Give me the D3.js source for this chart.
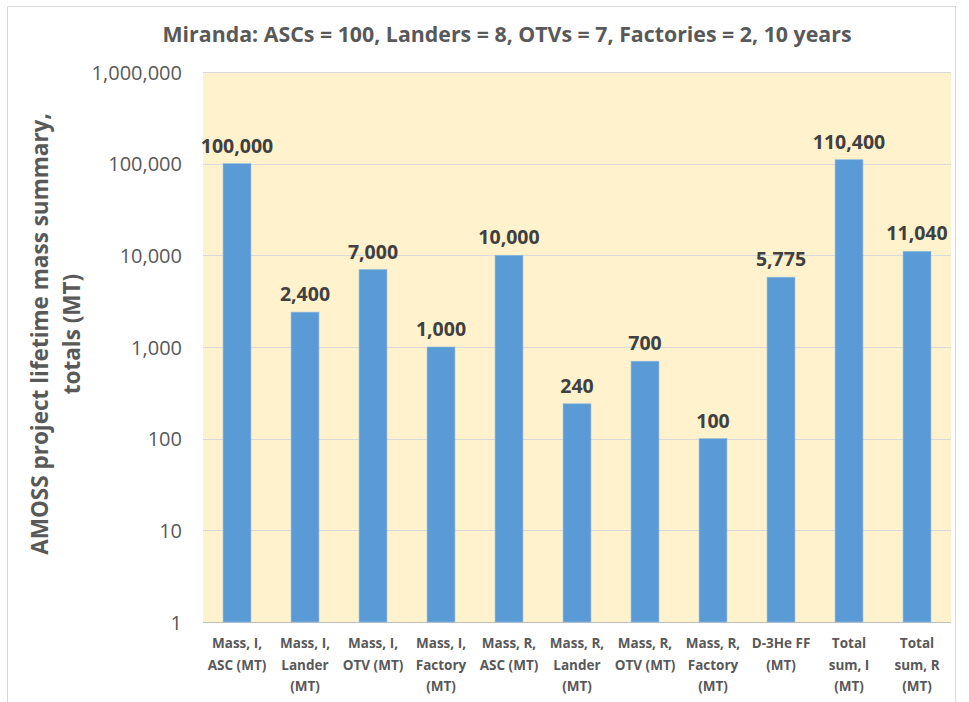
<!DOCTYPE html>
<html><head><meta charset="utf-8">
<script src="https://cdn.jsdelivr.net/npm/d3@7/dist/d3.min.js"></script>
<style>
html,body{margin:0;padding:0;background:#fff;}
svg{display:block;}
</style></head>
<body>
<script>
const categories = [
  ["Mass, I,","ASC (MT)"],
  ["Mass, I,","Lander","(MT)"],
  ["Mass, I,","OTV (MT)"],
  ["Mass, I,","Factory","(MT)"],
  ["Mass, R,","ASC (MT)"],
  ["Mass, R,","Lander","(MT)"],
  ["Mass, R,","OTV (MT)"],
  ["Mass, R,","Factory","(MT)"],
  ["D-3He FF","(MT)"],
  ["Total","sum, I","(MT)"],
  ["Total","sum, R","(MT)"]
];
const values = [100000, 2400, 7000, 1000, 10000, 240, 700, 100, 5775, 110400, 11040];
const tickValues = [1, 10, 100, 1000, 10000, 100000, 1000000];
const title = "Miranda: ASCs = 100, Landers = 8, OTVs = 7, Factories = 2, 10 years";
const yTitle = ["AMOSS project lifetime mass summary,", "totals (MT)"];

const W = 969, H = 702;
const m = {left: 203, right: 951, top: 72, bottom: 622};
const svg = d3.select("body").append("svg").attr("width", W).attr("height", H);

// outer border
svg.append("rect").attr("x", 7.5).attr("y", 6.5).attr("width", 948).attr("height", 710)
  .attr("fill", "#fff").attr("stroke", "#d9d9d9");

const x = d3.scaleBand().domain(d3.range(categories.length)).range([m.left, m.right]).paddingInner(0.59).paddingOuter(0.295);
const y = d3.scaleLog().domain([1, 1000000]).range([m.bottom, m.top]);

svg.append("rect").attr("x", m.left).attr("y", m.top).attr("width", m.right - m.left).attr("height", m.bottom - m.top)
  .attr("fill", "#fff2cc");

// gridlines
svg.append("g").selectAll("line").data(tickValues).join("line")
  .attr("x1", m.left).attr("x2", m.right)
  .attr("y1", d => Math.round(y(d)) + 0.5).attr("y2", d => Math.round(y(d)) + 0.5)
  .attr("stroke", d => d === 1 ? "#bfbfbf" : "#d9d9d9").attr("stroke-width", 1);

// y axis labels
const fmt = d3.format(",");
const yAxis = d3.axisLeft(y).tickValues(tickValues).tickFormat(fmt).tickSize(0).tickPadding(0);
const gy = svg.append("g").attr("transform", `translate(${m.left - 21},0)`).call(yAxis);
gy.select(".domain").remove();
gy.selectAll("text").attr("font-family", "'Open Sans', sans-serif").attr("font-size", 20)
  .attr("fill", "#595959").attr("dy", "0.35em");

// bars
svg.append("g").selectAll("rect").data(values).join("rect")
  .attr("x", (d, i) => x(i)).attr("width", x.bandwidth())
  .attr("y", d => y(d)).attr("height", d => y(1) - y(d))
  .attr("fill", "#5b9bd5").attr("stroke", "#8db8e0").attr("stroke-width", 0.6);

// data labels
svg.append("g").selectAll("text").data(values).join("text")
  .attr("x", (d, i) => x(i) + x.bandwidth() / 2).attr("y", d => y(d) - 11)
  .attr("text-anchor", "middle").attr("font-family", "'Open Sans', sans-serif")
  .attr("font-weight", "bold").attr("font-size", 19.5).attr("fill", "#404040")
  .text(d => fmt(d));

// category labels
const xAxis = d3.axisBottom(x).tickSize(0).tickFormat("");
const gx = svg.append("g").attr("transform", `translate(0,${m.bottom})`).call(xAxis);
gx.select(".domain").remove();
gx.selectAll(".tick").each(function(i) {
  const t = d3.select(this).append("text").attr("text-anchor", "middle")
    .attr("font-family", "'Open Sans', sans-serif").attr("font-weight", "bold")
    .attr("font-size", 13.5).attr("fill", "#595959");
  categories[i].forEach((line, k) => {
    t.append("tspan").attr("x", 0).attr("y", 26 + k * 21.5).text(line);
  });
});

// title
svg.append("text").attr("x", 507).attr("y", 42).attr("text-anchor", "middle")
  .attr("font-family", "'Open Sans', sans-serif").attr("font-weight", "bold")
  .attr("font-size", 21).attr("textLength", 689).attr("lengthAdjust", "spacingAndGlyphs")
  .attr("fill", "#595959").text(title);

// y title
const yt = svg.append("text").attr("transform", `translate(0,334) rotate(-90)`)
  .attr("text-anchor", "middle").attr("font-family", "'Open Sans', sans-serif")
  .attr("font-weight", "bold").attr("font-size", 22.5).attr("fill", "#595959");
yTitle.forEach((line, k) => {
  yt.append("tspan").attr("x", 0).attr("y", 48 + k * 32).text(line);
});
</script>
</body></html>
